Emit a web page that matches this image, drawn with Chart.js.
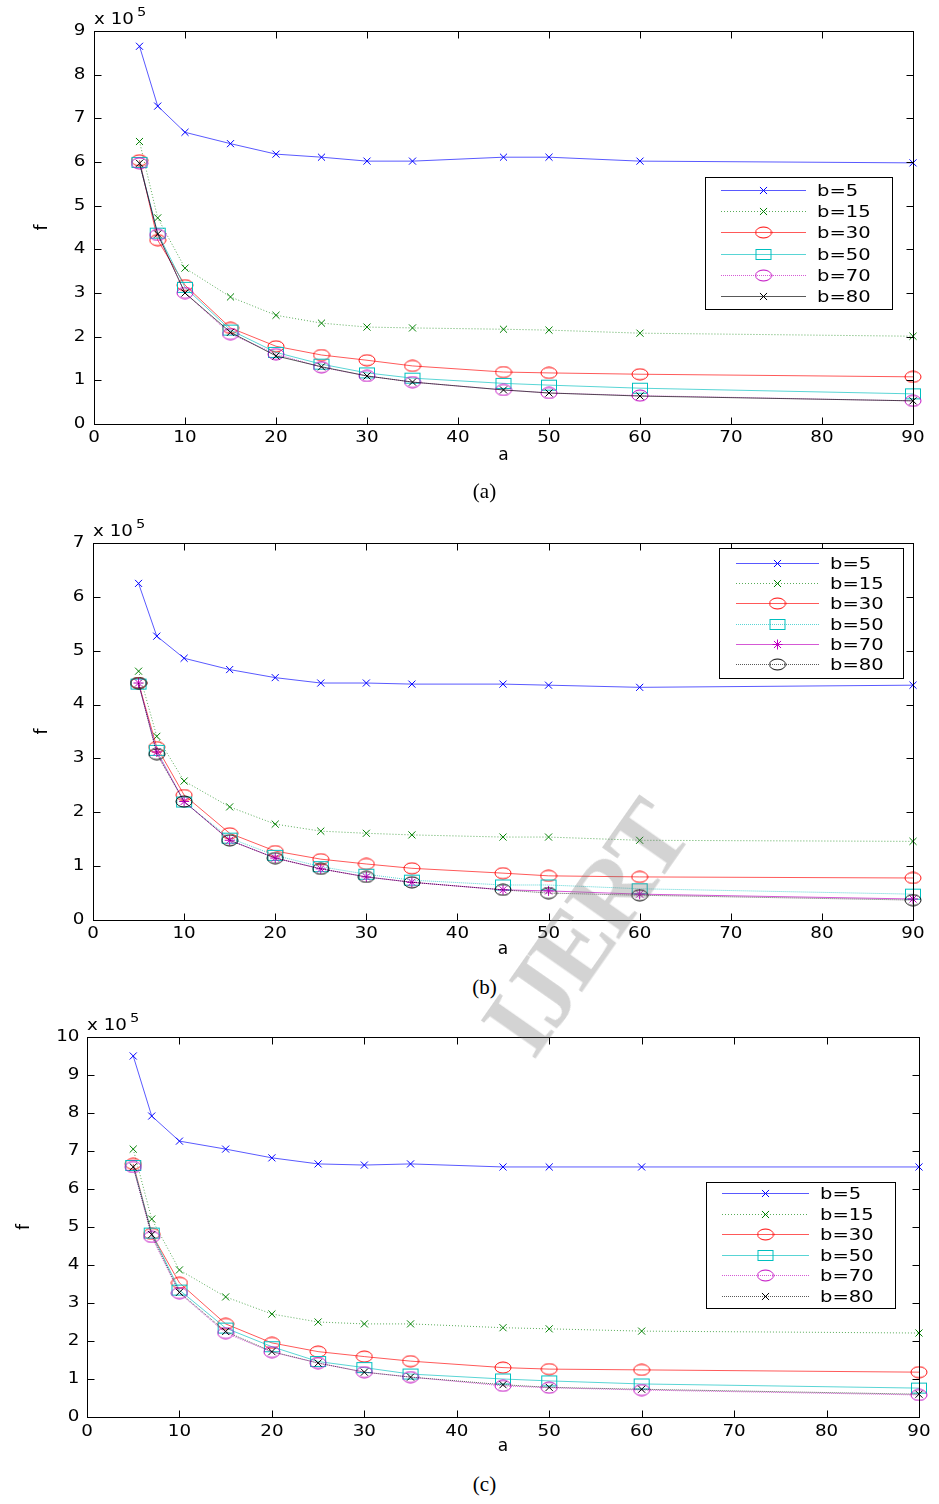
<!DOCTYPE html>
<html>
<head>
<meta charset="utf-8">
<script src="https://cdn.jsdelivr.net/npm/chart.js@4"></script>
<style>
  body { margin: 0; background: #fff; width: 939px; height: 1504px; position: relative; overflow: hidden; }
  canvas { position: absolute; left: 0; }
  .cap { position: absolute; left: 15px; width: 939px; text-align: center; font-family: "Liberation Serif"; font-size: 21px; color: #000; }
  #wm { position: absolute; left: 395px; top: 870px; width: 380px; text-align: center;
        font-family: "Liberation Serif"; font-weight: bold; font-size: 102px; letter-spacing: -4px;
        color: rgba(110, 110, 110, 0.3); transform: rotate(-55deg); transform-origin: 50% 50%; pointer-events: none; }
</style>
</head>
<body>
<canvas id="chartA" width="939" height="470" style="top:0px"></canvas>
<canvas id="chartB" width="939" height="464" style="top:500px"></canvas>
<canvas id="chartC" width="939" height="461" style="top:1000px"></canvas>
<div class="cap" style="top:479px">(a)</div>
<div class="cap" style="top:975px">(b)</div>
<div class="cap" style="top:1472px">(c)</div>
<div id="wm">IJERT</div>

<script>
// x values (a) shared by all panels
const aValues = [5, 7, 10, 15, 20, 25, 30, 35, 45, 50, 60, 90];
const bLabels = ["b=5", "b=15", "b=30", "b=50", "b=70", "b=80"];

// f values, in units of 10^5
// panel (a)
const fA5  = [8.65, 7.28, 6.68, 6.42, 6.18, 6.11, 6.02, 6.02, 6.11, 6.11, 6.02, 5.98];
const fA15 = [6.47, 4.72, 3.57, 2.91, 2.49, 2.31, 2.22, 2.20, 2.17, 2.15, 2.08, 2.01];
const fA30 = [6.04, 4.21, 3.18, 2.20, 1.78, 1.58, 1.46, 1.33, 1.19, 1.17, 1.14, 1.08];
const fA50 = [5.99, 4.37, 3.13, 2.15, 1.64, 1.37, 1.17, 1.05, 0.93, 0.89, 0.82, 0.69];
const fA70 = [5.97, 4.33, 3.00, 2.06, 1.60, 1.30, 1.10, 0.96, 0.78, 0.71, 0.65, 0.53];
const fA80 = [5.97, 4.35, 3.00, 2.10, 1.56, 1.31, 1.10, 0.96, 0.78, 0.71, 0.64, 0.53];

// panel (b)
const fB5  = [6.25, 5.27, 4.86, 4.65, 4.50, 4.40, 4.40, 4.38, 4.38, 4.36, 4.32, 4.36];
const fB15 = [4.62, 3.41, 2.58, 2.10, 1.78, 1.65, 1.61, 1.58, 1.54, 1.54, 1.48, 1.46];
const fB30 = [4.40, 3.21, 2.32, 1.61, 1.28, 1.13, 1.04, 0.96, 0.87, 0.82, 0.80, 0.78];
const fB50 = [4.38, 3.15, 2.19, 1.52, 1.20, 0.99, 0.85, 0.74, 0.65, 0.65, 0.58, 0.48];
const fB70 = [4.40, 3.12, 2.20, 1.48, 1.15, 0.95, 0.80, 0.70, 0.56, 0.54, 0.48, 0.39];
const fB80 = [4.40, 3.08, 2.20, 1.48, 1.15, 0.95, 0.80, 0.70, 0.56, 0.50, 0.46, 0.37];

// panel (c)
const fC5  = [9.50, 7.92, 7.26, 7.05, 6.82, 6.66, 6.63, 6.66, 6.58, 6.58, 6.58, 6.58];
const fC15 = [7.05, 5.21, 3.87, 3.16, 2.71, 2.50, 2.45, 2.45, 2.35, 2.32, 2.26, 2.21];
const fC30 = [6.66, 4.82, 3.53, 2.45, 1.95, 1.72, 1.59, 1.47, 1.30, 1.26, 1.24, 1.18];
const fC50 = [6.62, 4.84, 3.34, 2.34, 1.85, 1.46, 1.30, 1.13, 1.00, 0.95, 0.87, 0.76];
const fC70 = [6.58, 4.74, 3.26, 2.21, 1.71, 1.42, 1.18, 1.05, 0.82, 0.77, 0.71, 0.58];
const fC80 = [6.58, 4.80, 3.28, 2.25, 1.72, 1.42, 1.18, 1.05, 0.85, 0.78, 0.73, 0.60];

const yMaxA = 9, yMaxB = 7, yMaxC = 10;

// matlab-ish colours
const BLUE = "#0000ff", GREEN = "#008000", RED = "#ff0000",
      CYAN = "#00bfbf", MAGENTA = "#bf00bf", BLACK = "#000000";

const FONT = '"DejaVu Sans", sans-serif';
const STRETCH = 1.22;   // the source figure is stretched sideways

// wide ellipse / box markers
function ellipseMarker(color) {
    const c = document.createElement("canvas");
    c.width = 18; c.height = 13;
    const g = c.getContext("2d");
    g.strokeStyle = color; g.lineWidth = 1;
    g.beginPath();
    g.ellipse(9, 6.5, 8, 5.5, 0, 0, Math.PI * 2);
    g.stroke();
    return c;
}
function boxMarker(color) {
    const c = document.createElement("canvas");
    c.width = 18; c.height = 13;
    const g = c.getContext("2d");
    g.strokeStyle = color; g.lineWidth = 1;
    g.strokeRect(1.5, 1.5, 15, 10);
    return c;
}

function lineColor(hex, a) {
    const n = parseInt(hex.slice(1), 16);
    return `rgba(${n >> 16}, ${(n >> 8) & 255}, ${n & 255}, ${a})`;
}

function makeDatasets(series, styles) {
    return series.map((vals, i) => ({
        label: bLabels[i],
        data: aValues.map((a, k) => ({ x: a, y: vals[k] })),
        borderColor: lineColor(styles[i].color, 0.65),
        borderWidth: 1,
        borderDash: styles[i].dash || [],
        pointStyle: styles[i].marker,
        pointRadius: 5,
        pointBorderWidth: 1,
        pointBorderColor: styles[i].color,
        pointBackgroundColor: "rgba(0,0,0,0)",
        markerColor: styles[i].color,
        tension: 0,
        fill: false,
        clip: false,
        order: 6 - i
    }));
}

// stretched text
function wideText(ctx, text, x, y, align) {
    ctx.save();
    ctx.translate(x, y);
    ctx.scale(STRETCH, 1);
    ctx.textAlign = align;
    ctx.fillText(text, 0, 0);
    ctx.restore();
}

// draws one marker at (x, y) for the legend
function drawMarker(ctx, style, color, x, y) {
    if (typeof style === "object") {
        ctx.drawImage(style, x - style.width / 2, y - style.height / 2);
        return;
    }
    const r = 5, d = r * Math.SQRT1_2;
    ctx.strokeStyle = color;
    ctx.setLineDash([]);
    ctx.beginPath();
    ctx.moveTo(x - d, y - d); ctx.lineTo(x + d, y + d);
    ctx.moveTo(x - d, y + d); ctx.lineTo(x + d, y - d);
    if (style === "star") {
        ctx.moveTo(x - r, y); ctx.lineTo(x + r, y);
        ctx.moveTo(x, y - r); ctx.lineTo(x, y + r);
    }
    ctx.stroke();
}

// box, inward ticks on all sides, tick labels, x10^5 label and the legend
const matlabAxes = {
    id: "matlabAxes",
    afterDatasetsDraw(chart, args, opts) {
        const { ctx, chartArea: ca, scales: { x, y } } = chart;
        const L = Math.round(ca.left) + 0.5, R = Math.round(ca.right) + 0.5;
        const T = Math.round(ca.top) + 0.5, B = Math.round(ca.bottom) + 0.5;
        ctx.save();
        ctx.strokeStyle = "#000";
        ctx.lineWidth = 1;
        ctx.beginPath();
        x.ticks.forEach(t => {
            const px = Math.round(x.getPixelForValue(t.value)) + 0.5;
            ctx.moveTo(px, B); ctx.lineTo(px, B - 7);
            ctx.moveTo(px, T); ctx.lineTo(px, T + 7);
        });
        y.ticks.forEach(t => {
            const py = Math.round(y.getPixelForValue(t.value)) + 0.5;
            ctx.moveTo(L, py); ctx.lineTo(L + 7, py);
            ctx.moveTo(R, py); ctx.lineTo(R - 7, py);
        });
        ctx.stroke();
        ctx.strokeRect(L, T, R - L, B - T);

        // tick labels
        ctx.fillStyle = "#000";
        ctx.font = "15px " + FONT;
        ctx.textBaseline = "middle";
        x.ticks.forEach(t => {
            wideText(ctx, String(t.value), x.getPixelForValue(t.value), B + opts.xLabelGap, "center");
        });
        y.ticks.forEach(t => {
            wideText(ctx, String(t.value), L - opts.yLabelGap, y.getPixelForValue(t.value), "right");
        });

        // exponent label
        ctx.textBaseline = "alphabetic";
        ctx.font = "15px " + FONT;
        wideText(ctx, "x 10", ca.left, ca.top - 7, "left");
        const w = ctx.measureText("x 10").width * STRETCH;
        ctx.font = "12px " + FONT;
        wideText(ctx, "5", ca.left + w + 3, ca.top - 15, "left");

        // legend
        const lg = opts.legend;
        ctx.fillStyle = "#fff";
        ctx.fillRect(lg.x, lg.y, lg.w, lg.h);
        ctx.strokeStyle = "#000";
        ctx.strokeRect(lg.x + 0.5, lg.y + 0.5, lg.w, lg.h);
        ctx.font = "16px " + FONT;
        ctx.textBaseline = "middle";
        chart.data.datasets.forEach((ds, i) => {
            const ry = Math.round(lg.row0 + i * lg.step) + 0.5;
            ctx.strokeStyle = ds.borderColor;
            ctx.setLineDash(ds.borderDash);
            ctx.beginPath();
            ctx.moveTo(lg.line0, ry); ctx.lineTo(lg.line1, ry);
            ctx.stroke();
            ctx.setLineDash([]);
            drawMarker(ctx, ds.pointStyle, ds.markerColor, (lg.line0 + lg.line1) / 2, ry);
            ctx.fillStyle = "#000";
            wideText(ctx, ds.label, lg.text, ry + 1, "left");
        });
        ctx.restore();
    }
};

function makeChart(id, datasets, yMax, layout, legend) {
    return new Chart(document.getElementById(id), {
        type: "line",
        data: { datasets: datasets },
        options: {
            responsive: false,
            animation: false,
            devicePixelRatio: 1,
            layout: { padding: { left: layout.padLeft, top: layout.padTop, right: layout.padRight, bottom: 0 } },
            scales: {
                x: {
                    type: "linear",
                    min: 0, max: 90,
                    ticks: { stepSize: 10, display: false },
                    grid: { display: false, drawTicks: false },
                    border: { display: false },
                    title: { display: true, text: "a", color: "#000", font: { family: FONT, size: 17 } },
                    afterFit: s => { s.height = layout.xHeight; }
                },
                y: {
                    min: 0, max: yMax,
                    ticks: { stepSize: 1, display: false },
                    grid: { display: false, drawTicks: false },
                    border: { display: false },
                    title: { display: true, text: "f", color: "#000", font: { family: FONT, size: 17 } },
                    afterFit: s => { s.width = layout.yWidth; }
                }
            },
            plugins: {
                legend: { display: false },
                tooltip: { enabled: false },
                matlabAxes: { legend: legend, xLabelGap: layout.xGap, yLabelGap: layout.yGap }
            }
        },
        plugins: [matlabAxes]
    });
}

const crossA = "crossRot";

makeChart("chartA",
    makeDatasets([fA5, fA15, fA30, fA50, fA70, fA80], [
        { color: BLUE, marker: crossA },
        { color: GREEN, marker: crossA, dash: [1, 2] },
        { color: RED, marker: ellipseMarker(RED) },
        { color: CYAN, marker: boxMarker(CYAN) },
        { color: MAGENTA, marker: ellipseMarker(MAGENTA), dash: [1, 1] },
        { color: BLACK, marker: crossA }
    ]),
    yMaxA,
    { padLeft: 28, padTop: 31, padRight: 26, yWidth: 66, xHeight: 46, xGap: 14, yGap: 9 },
    { x: 705, y: 177, w: 187, h: 132, row0: 190, step: 21.2, line0: 721, line1: 806, text: 817 }
);

makeChart("chartB",
    makeDatasets([fB5, fB15, fB30, fB50, fB70, fB80], [
        { color: BLUE, marker: crossA },
        { color: GREEN, marker: crossA, dash: [1, 2] },
        { color: RED, marker: ellipseMarker(RED) },
        { color: CYAN, marker: boxMarker(CYAN), dash: [1, 1] },
        { color: MAGENTA, marker: "star" },
        { color: BLACK, marker: ellipseMarker(BLACK), dash: [1, 1] }
    ]),
    yMaxB,
    { padLeft: 28, padTop: 43, padRight: 26, yWidth: 65, xHeight: 44, xGap: 14, yGap: 9 },
    { x: 719, y: 48, w: 184, h: 130, row0: 63, step: 20.2, line0: 736, line1: 819, text: 830 }
);

makeChart("chartC",
    makeDatasets([fC5, fC15, fC30, fC50, fC70, fC80], [
        { color: BLUE, marker: crossA },
        { color: GREEN, marker: crossA, dash: [1, 2] },
        { color: RED, marker: ellipseMarker(RED) },
        { color: CYAN, marker: boxMarker(CYAN) },
        { color: MAGENTA, marker: ellipseMarker(MAGENTA), dash: [1, 1] },
        { color: BLACK, marker: crossA, dash: [1, 1] }
    ]),
    yMaxC,
    { padLeft: 10, padTop: 37, padRight: 20, yWidth: 77, xHeight: 44, xGap: 15, yGap: 8 },
    { x: 706, y: 182, w: 189, h: 126, row0: 193, step: 20.6, line0: 722, line1: 809, text: 820 }
);
</script>
</body>
</html>
